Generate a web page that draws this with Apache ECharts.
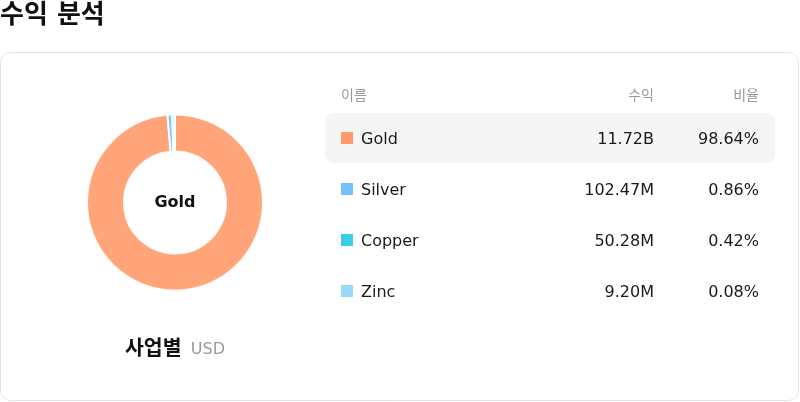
<!DOCTYPE html>
<html>
<head>
<meta charset="utf-8">
<script src="https://cdn.jsdelivr.net/npm/echarts@6/dist/echarts.min.js"></script>
<style>
html,body{margin:0;padding:0;background:#fff;}
#c{width:800px;height:402px;}
</style>
</head>
<body>
<div id="c"></div>
<script>
const titleText = '수익 분석';
const headers = ['이름', '수익', '비율'];
const names = ['Gold', 'Silver', 'Copper', 'Zinc'];
const revenues = [11720000000, 102470000, 50280000, 9200000];
const colors = ['#ff9b6a', '#74c0fc', '#3bcfe3', '#99d9fa'];
const caption = '사업별';
const unit = 'USD';

const FONT = '"DejaVu Sans", "Noto Sans CJK KR", sans-serif';
const total = revenues.reduce((a, b) => a + b, 0);
function fmt(v) {
  if (v >= 1e9) return (v / 1e9).toFixed(2) + 'B';
  if (v >= 1e6) return (v / 1e6).toFixed(2) + 'M';
  if (v >= 1e3) return (v / 1e3).toFixed(2) + 'K';
  return v.toFixed(2);
}

const chart = echarts.init(document.getElementById('c'), null, {renderer: 'canvas'});

const graphics = [
  {type: 'rect', shape: {x: 0.5, y: 52.5, width: 798, height: 348, r: 10},
   style: {fill: '#fff', stroke: '#e2e2ea', lineWidth: 1}, z: 0},
  {type: 'text', x: 0, y: 16, style: {text: titleText, font: 'bold 26px ' + FONT, fill: '#111', verticalAlign: 'middle'}},
  {type: 'text', x: 175, y: 203, style: {text: names[0], font: 'bold 16px ' + FONT, fill: '#111', align: 'center', verticalAlign: 'middle'}, z: 10},
  {type: 'text', x: 341, y: 96, style: {text: headers[0], font: '14px ' + FONT, fill: '#999', verticalAlign: 'middle'}},
  {type: 'text', x: 654, y: 96, style: {text: headers[1], font: '14px ' + FONT, fill: '#999', align: 'right', verticalAlign: 'middle'}},
  {type: 'text', x: 759, y: 96, style: {text: headers[2], font: '14px ' + FONT, fill: '#999', align: 'right', verticalAlign: 'middle'}},
  {type: 'rect', shape: {x: 325, y: 113, width: 450, height: 50, r: 9}, style: {fill: '#f5f5f5'}, z: 1}
];

graphics.push({
  type: 'text', x: 175, y: 350,
  style: {
    text: '{a|' + caption + '} {b|' + unit + '}',
    align: 'center', verticalAlign: 'middle',
    rich: {
      a: {font: 'bold 20.5px ' + FONT, fill: '#111', padding: [0, 6, 0, 0]},
      b: {font: '16px ' + FONT, fill: '#999'}
    }
  }
});

names.forEach((n, i) => {
  const cy = 138 + i * 51;
  graphics.push({type: 'rect', shape: {x: 341, y: cy - 6, width: 12, height: 12}, style: {fill: colors[i]}, z: 5});
  graphics.push({type: 'text', x: 361, y: cy + 1.5, style: {text: n, font: '16px ' + FONT, fill: '#1a1a1a', verticalAlign: 'middle'}, z: 5});
  graphics.push({type: 'text', x: 654, y: cy + 1.5, style: {text: fmt(revenues[i]), font: '16px ' + FONT, fill: '#1a1a1a', align: 'right', verticalAlign: 'middle'}, z: 5});
  graphics.push({type: 'text', x: 759, y: cy + 1.5, style: {text: (revenues[i] / total * 100).toFixed(2) + '%', font: '16px ' + FONT, fill: '#1a1a1a', align: 'right', verticalAlign: 'middle'}, z: 5});
});

chart.setOption({
  animation: false,
  graphic: {elements: graphics},
  series: [{
    type: 'pie',
    center: [175, 202.5],
    radius: [51, 88],
    startAngle: 90,
    clockwise: true,
    minAngle: 0,
    avoidLabelOverlap: false,
    label: {show: false},
    labelLine: {show: false},
    silent: true,
    z: 3,
    itemStyle: {borderColor: '#fff', borderWidth: 2, opacity: 0.9},
    data: names.map((n, i) => ({name: n, value: revenues[i], itemStyle: {color: colors[i]}}))
  }]
});
</script>
</body>
</html>
